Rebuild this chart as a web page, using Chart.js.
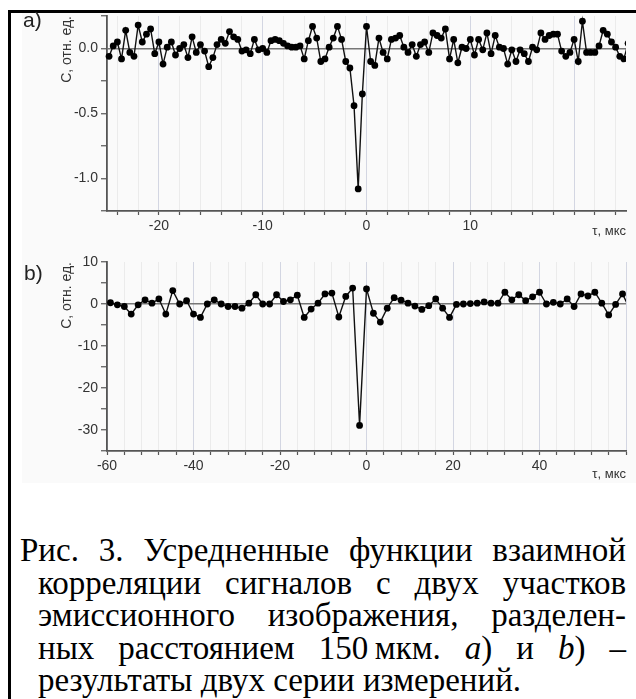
<!DOCTYPE html>
<html lang="ru">
<head>
<meta charset="utf-8">
<script src="https://cdn.jsdelivr.net/npm/chart.js@4.4.1/dist/chart.umd.min.js"></script>
<style>
  html, body { margin: 0; padding: 0; background: #fff; }
  body { width: 636px; height: 699px; position: relative; overflow: hidden; }
  .frame { position: absolute; left: 8px; top: 10px; width: 700px; height: 760px;
           border: 3px solid #000; box-sizing: border-box; }
  .plotbg { position: absolute; left: 22px; top: 13px; width: 614px; height: 470px; background: #fafafa; }
  canvas { position: absolute; left: 0; }
  .tag { position: absolute; font: 21px 'Liberation Sans', Arial, sans-serif; color: #222; }
  .caption { position: absolute; left: 20px; width: 606px; top: 534px;
             font: 33px/32.5px 'Liberation Serif', 'Times New Roman', serif; color: #000; }
  .caption .ln { padding-left: 18px; text-align: justify; text-align-last: justify; }
  .caption .ln.first { padding-left: 0; }
  .caption .ln.last { text-align-last: left; }
</style>
</head>
<body>
<div class="frame"></div>
<div class="plotbg"></div>
<canvas id="corrA" width="636" height="245" style="top:0"></canvas>
<canvas id="corrB" width="636" height="245" style="top:245px"></canvas>
<div class="tag" style="left:23px; top:8px">a)</div>
<div class="tag" style="left:24px; top:261px">b)</div>
<div class="caption">
  <div class="ln first">Рис. 3. Усредненные функции взаимной</div>
  <div class="ln">корреляции сигналов с двух участков</div>
  <div class="ln">эмиссионного изображения, разделен-</div>
  <div class="ln">ных расстоянием 150&#8201;мкм. <i>a</i>) и <i>b</i>) –</div>
  <div class="ln last">результаты двух серии измерений.</div>
</div>
<script>
// series a: lag grid (мкс) and averaged correlation
const TAU_A_START = -24.8;
const TAU_A_STEP = 0.4;
const corrA = [
  -0.06, 0.02, 0.05, -0.08, 0.14, -0.03, -0.06, 0.18, 0.05, 0.11,
  0.15, -0.04, 0.05, -0.12, 0.01, 0.05, -0.05, 0.00, 0.03, -0.07,
  0.09, -0.03, 0.03, -0.02, -0.14, -0.07, 0.03, 0.07, 0.04, 0.13,
  0.09, 0.07, -0.02, -0.01, -0.04, 0.07, -0.01, 0.00, -0.03, 0.06,
  0.07, 0.06, 0.04, 0.02, 0.01, 0.01, 0.02, -0.08, 0.06, 0.17,
  0.08, -0.10, -0.08, 0.01, 0.08, 0.17, 0.07, -0.10, -0.15, -0.44,
  -1.08, -0.35, 0.17, -0.10, -0.13, 0.08, -0.03, -0.08, 0.07, 0.08,
  0.10, 0.01, -0.03, 0.03, -0.06, 0.03, 0.05, -0.03, 0.12, 0.10,
  0.08, 0.15, -0.08, 0.07, -0.11, 0.01, 0.00, 0.07, -0.05, 0.07,
  -0.01, 0.12, -0.04, 0.10, 0.01, 0.00, -0.12, -0.01, -0.10, -0.01,
  -0.04, -0.10, 0.01, -0.01, 0.12, 0.07, 0.10, 0.11, 0.11, -0.02,
  -0.06, -0.03, 0.07, -0.10, 0.21, -0.03, -0.03, -0.03, 0.02, 0.14,
  0.11, 0.05, 0.01, -0.06, -0.08, 0.04
];

// series b
const TAU_B_START = -59.2;
const TAU_B_STEP = 1.6;
const corrB = [
  0.3, -0.2, -0.6, -2.4, -0.2, 1.0, 0.2, 1.2, -2.4, 3.2,
  0.0, 0.8, -2.4, -3.2, 0.0, 1.0, 0.0, -0.6, -0.6, -1.0,
  0.2, 2.2, 0.0, 0.0, 2.2, 0.6, 1.0, 2.1, -3.2, -1.2,
  0.2, 2.4, 2.6, -3.1, 1.8, 3.8, -28.9, 3.6, -2.2, -4.3,
  -1.0, 1.5, 0.9, 0.2, -0.5, -1.3, -0.4, 1.2, -1.0, -3.2,
  -0.1, 0.0, 0.1, 0.2, 0.5, 0.2, 0.2, 2.8, 1.0, 2.2,
  0.8, 1.7, 2.8, 0.0, 0.4, 0.0, 1.2, -0.6, 2.4, 1.9,
  2.8, 0.2, -2.6, -0.1, 2.4, -1.0
];

// axis ticks: every tick gets a grid line, only the listed ones get text
const xTicksA = [-24, -22, -20, -18, -16, -14, -12, -10, -8, -6, -4, -2, 0,
                 2, 4, 6, 8, 10, 12, 14, 16, 18, 20, 22, 24];
const xLabelsA = [-20, -10, 0, 10];
const yTicksA = [0.25, 0, -0.25, -0.5, -0.75, -1.0, -1.25];
const yLabelsA = [0, -0.5, -1.0];

const xTicksB = [-60, -56, -52, -48, -44, -40, -36, -32, -28, -24, -20, -16, -12, -8, -4, 0,
                 4, 8, 12, 16, 20, 24, 28, 32, 36, 40, 44, 48, 52, 56, 60];
const xLabelsB = [-60, -40, -20, 0, 20, 40];
const yTicksB = [10, 5, 0, -5, -10, -15, -20, -25, -30, -35];
const yLabelsB = [10, 0, -10, -20, -30];

Chart.defaults.font.family = "'Liberation Sans', Arial, sans-serif";
Chart.defaults.color = '#333';

const has = (list, v) => list.some(l => Math.abs(l - v) < 1e-6);

function makePanel(id, o) {
  const pts = o.corr.map((c, i) => ({ x: +(o.start + i * o.step).toFixed(2), y: c }));
  return new Chart(document.getElementById(id), {
    type: 'scatter',
    data: {
      datasets: [{
        data: pts,
        showLine: true,
        borderColor: '#111',
        borderWidth: 1.4,
        pointRadius: 3.4,
        pointBackgroundColor: '#000',
        pointBorderWidth: 0,
        clip: { left: 8, top: 8, right: 0, bottom: 8 },
      }],
    },
    options: {
      responsive: false,
      animation: false,
      devicePixelRatio: 1,
      layout: { padding: { top: o.top, right: 10, left: 0, bottom: 0 } },
      plugins: { legend: { display: false }, tooltip: { enabled: false } },
      scales: {
        x: {
          type: 'linear',
          min: o.xMin, max: o.xMax,
          afterBuildTicks: s => { s.ticks = o.xTicks.map(v => ({ value: v })); },
          afterFit: s => { s.height = o.xHeight; },
          ticks: {
            autoSkip: false, maxRotation: 0, padding: 3,
            font: { size: 14 }, color: '#333',
            callback: v => has(o.xLabels, v) ? String(v) : '',
          },
          grid: {
            color: c => has(o.xLabels.concat(o.xMajorExtra || []), c.tick.value) ? '#d3d6e2' : '#ebebeb',
            lineWidth: 1,
            tickLength: 4, tickColor: '#555', tickWidth: 1.2,
          },
          border: { display: true, color: '#555', width: 1.8 },
          title: {
            display: true, text: 'τ, мкс', align: 'end',
            font: { size: 13 }, color: '#333',
            padding: { top: 0, bottom: o.tauPad },
          },
        },
        y: {
          type: 'linear',
          min: o.yMin, max: o.yMax,
          afterBuildTicks: s => { s.ticks = o.yTicks.map(v => ({ value: v })); },
          afterFit: s => { s.width = 107; },
          ticks: {
            padding: 3, font: { size: 14 }, color: '#333',
            callback: v => has(o.yLabels, v) ? o.fmt(v) : '',
          },
          grid: {
            color: c => Math.abs(c.tick.value) < 1e-9 ? '#777' : 'rgba(0,0,0,0)',
            lineWidth: 1.5,
            tickLength: 6, tickColor: '#555', tickWidth: 1.2,
          },
          border: { display: true, color: '#555', width: 1.8 },
          title: {
            display: true, text: 'C, отн. ед.', align: 'end',
            font: { size: 14 },
            color: '#333',
            padding: { top: 59, bottom: 0 },
          },
        },
      },
    },
  });
}

makePanel('corrA', {
  corr: corrA, start: TAU_A_START, step: TAU_A_STEP,
  xMin: -25, xMax: 25, xTicks: xTicksA, xLabels: xLabelsA, xMajorExtra: [20],
  yMin: -1.25, yMax: 0.25, yTicks: yTicksA, yLabels: yLabelsA,
  fmt: v => v.toFixed(1),
  top: 16, xHeight: 34, tauPad: 6,
});

makePanel('corrB', {
  corr: corrB, start: TAU_B_START, step: TAU_B_STEP,
  xMin: -60, xMax: 60, xTicks: xTicksB, xLabels: xLabelsB, xMajorExtra: [60],
  yMin: -35, yMax: 10, yTicks: yTicksB, yLabels: yLabelsB,
  fmt: v => String(v),
  top: 17, xHeight: 39, tauPad: 8,
});
</script>
</body>
</html>
